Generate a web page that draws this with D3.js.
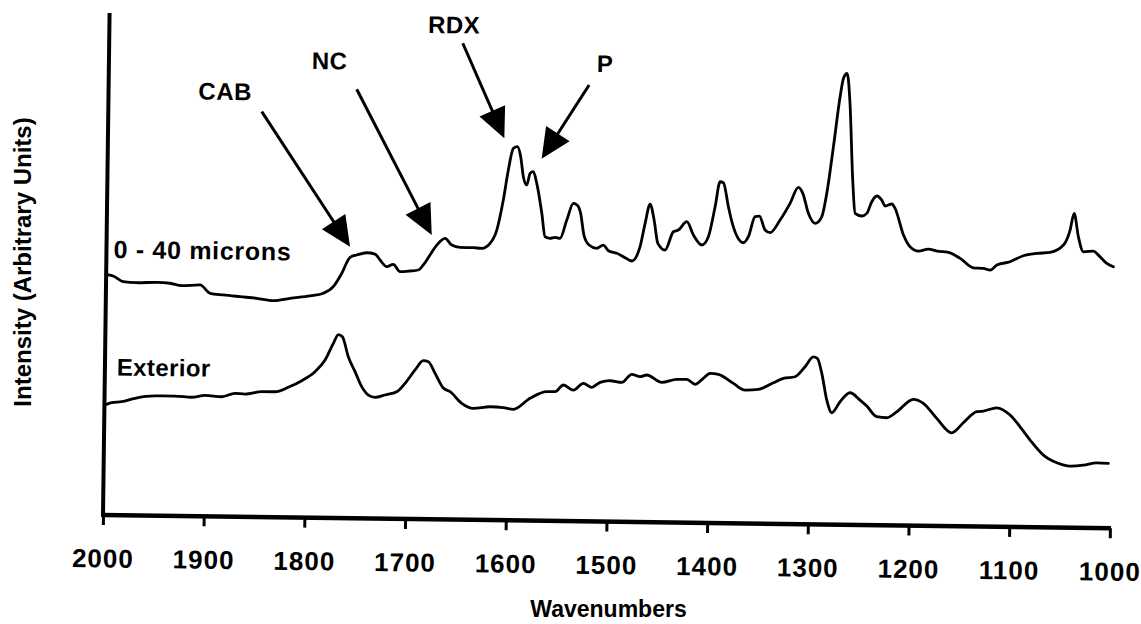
<!DOCTYPE html>
<html><head><meta charset="utf-8">
<script src="https://cdn.jsdelivr.net/npm/d3@7"></script>
<style>
body{margin:0;background:#fff}
svg{display:block}
text{font-family:"Liberation Sans",Arial,Helvetica,sans-serif;font-weight:bold;fill:#000}
</style>
</head><body>
<svg id="c" width="1141" height="624"></svg>
<script>
// ---- data (wavenumber, intensity in arbitrary units) ----
const topWn=[1997.8,1993.1,1983.1,1969.5,1949.7,1936.5,1924.8,1906.6,1896.6,1883.4,1866.7,1850.1,1833.6,1817.1,1797.2,1784.1,1774.3,1766.0,1758.1,1751.4,1741.5,1733.3,1728.2,1721.5,1715.0,1708.2,1698.3,1690.1,1685.2,1678.7,1672.1,1663.9,1657.2,1649.0,1635.7,1627.4,1619.2,1612.7,1606.6,1602.0,1597.3,1593.3,1589.9,1587.0,1583.5,1580.3,1577.2,1573.6,1568.2,1564.7,1559.7,1554.7,1549.8,1543.3,1537.0,1533.0,1529.7,1525.9,1520.9,1513.2,1506.7,1501.6,1493.2,1486.6,1478.2,1470.2,1465.5,1460.8,1456.6,1452.6,1445.3,1437.3,1432.4,1424.1,1417.4,1408.9,1402.5,1396.2,1391.6,1388.3,1383.0,1379.4,1367.6,1362.8,1356.4,1352.1,1346.3,1341.3,1331.5,1321.8,1313.8,1309.3,1303.5,1296.7,1290.2,1285.5,1279.5,1273.5,1270.3,1266.8,1263.6,1259.9,1257.1,1250.5,1245.5,1240.7,1235.7,1230.8,1227.4,1220.8,1217.5,1208.8,1202.1,1193.7,1183.9,1175.5,1164.0,1152.2,1138.9,1129.0,1122.3,1115.7,1102.6,1089.5,1076.2,1063.0,1049.8,1043.4,1039.6,1035.1,1029.9,1020.0,1015.0,1006.6,999.9];
const topI=[240.1,239.1,233.6,232.7,233.4,232.6,230.3,231.3,223.1,221.6,220.1,218.7,216.5,219.1,221.7,224.6,231.3,244.8,260.9,263.3,265.7,264.5,258.6,252.0,254.5,247.2,248.0,249.1,254.2,264.3,274.3,281.1,274.5,272.3,272.1,271.6,276.7,290.1,320.2,350.3,372.0,373.7,363.7,343.8,335.5,347.3,348.9,337.3,307.4,284.0,282.5,283.6,282.6,301.0,317.8,316.0,308.2,285.3,276.3,273.1,276.5,270.9,268.4,265.1,260.9,275.3,298.7,318.1,302.2,278.9,272.3,290.7,292.5,300.9,287.7,277.8,286.2,316.3,341.3,340.4,316.4,301.5,280.6,286.7,306.8,307.5,293.6,291.0,303.8,320.6,336.7,330.8,310.9,301.0,307.6,331.1,377.8,427.9,446.6,451.2,421.4,344.7,311.5,308.9,311.6,323.3,329.1,325.1,319.2,321.3,317.0,290.4,278.8,274.6,276.7,274.8,273.7,267.8,258.6,258.1,256.5,261.6,265.1,271.3,273.8,275.0,282.5,297.6,314.3,291.0,276.0,276.9,272.9,264.8,261.4];

const extWn=[1997.8,1992.8,1982.9,1969.7,1949.9,1930.0,1913.4,1900.3,1883.6,1870.5,1860.6,1844.0,1830.8,1817.7,1804.4,1791.4,1781.5,1773.5,1768.6,1764.6,1758.5,1751.6,1744.8,1738.1,1731.4,1721.5,1709.9,1701.8,1692.0,1683.9,1678.9,1672.1,1663.7,1657.0,1645.3,1633.7,1617.1,1603.9,1593.9,1577.5,1561.0,1552.7,1544.6,1534.6,1524.7,1516.4,1508.1,1498.2,1486.6,1476.8,1468.5,1461.9,1446.9,1432.1,1422.1,1413.8,1405.7,1399.0,1390.8,1375.8,1364.1,1350.8,1336.0,1326.2,1314.6,1304.8,1296.7,1292.7,1288.1,1282.8,1277.7,1269.6,1259.8,1249.8,1243.0,1233.0,1223.0,1213.1,1196.8,1186.9,1173.4,1158.3,1146.9,1133.7,1127.2,1113.9,1100.6,1090.5,1080.4,1067.0,1053.6,1040.3,1027.1,1013.9,1002.4];
const extI=[110.7,112.4,113.5,117.1,119.7,119.9,118.9,121.0,119.8,123.4,122.8,125.4,125.5,130.1,136.9,146.1,157.9,174.7,183.4,181.4,161.5,146.6,131.7,123.4,121.2,123.7,127.1,135.6,149.1,158.5,157.5,146.0,131.4,127.8,116.4,111.5,113.3,112.5,111.0,122.3,129.1,129.2,136.0,131.1,137.9,134.1,139.2,140.9,139.4,147.6,145.3,147.1,140.0,143.2,143.3,138.4,144.5,149.6,148.7,139.9,133.3,134.2,141.0,145.5,147.3,157.4,167.5,166.0,151.0,124.4,111.8,122.9,132.0,124.8,118.9,108.4,107.5,113.6,126.2,122.4,107.5,93.3,103.5,114.7,115.4,118.9,111.8,100.2,87.1,72.2,64.7,61.6,62.7,65.2,64.8];

const xTicks=[2000,1900,1800,1700,1600,1500,1400,1300,1200,1100,1000];
const seriesLabels=["0 - 40 microns","Exterior"];
const seriesLabelWn=[1993.0,1988.2];
const seriesLabelI=[257.1,139.7];

const annLabels=["CAB","NC","RDX","P"];
const annTipWn=[1758.2,1677.2,1606.4,1569.1];
const annTipI=[271.5,284.3,381.9,361.9];
const annTailWn=[1847.6,1753.6,1648.9,1522.9];
const annTailI=[405.4,429.0,476.4,436.3];
const annTextWn=[1884.2,1780.8,1657.7,1507.2];
const annTextI=[416.6,448.6,486.3,449.5];

const xTitle="Wavenumbers";
const yTitle="Intensity (Arbitrary Units)";
const yAxisTop=502;

// ---- drawing ----
const svg=d3.select("#c");
const x=d3.scaleLinear().domain([2000,1000]).range([103,1110]);
const y=d3.scaleLinear().domain([0,480]).range([515,35]);
const g=svg.append("g").attr("transform","rotate(0.75,103,515)");

// axes lines
g.append("line").attr("x1",x(2000)).attr("x2",x(2000)).attr("y1",y(0)+2).attr("y2",y(yAxisTop))
  .attr("stroke","#000").attr("stroke-width",4);
g.append("line").attr("x1",x(2000)-1).attr("x2",x(1000)+1).attr("y1",y(0)).attr("y2",y(0))
  .attr("stroke","#000").attr("stroke-width",4.5);

const xAxis=d3.axisBottom(x).tickValues(xTicks).tickSize(10).tickPadding(24).tickFormat(d3.format("d"));
const ax=g.append("g").attr("transform",`translate(0,${y(0)})`).call(xAxis);
ax.select(".domain").remove();
ax.selectAll(".tick line").attr("stroke","#000").attr("stroke-width",3);
ax.selectAll(".tick text").attr("fill","#000")
  .style("font-family",'"Liberation Sans",Arial,sans-serif').style("font-weight","bold")
  .style("font-size","26px").style("letter-spacing","1px");

// series
const line=d3.line().x(d=>x(d[0])).y(d=>y(d[1])).curve(d3.curveMonotoneX);
[[topWn,topI],[extWn,extI]].forEach(([w,v])=>{
  g.append("path").datum(w.map((d,i)=>[d,v[i]]))
   .attr("d",line).attr("fill","none").attr("stroke","#000")
   .attr("stroke-width",2.8).attr("stroke-linejoin","round").attr("stroke-linecap","round");
});

// series labels
seriesLabels.forEach((t,i)=>{
  g.append("text").attr("x",x(seriesLabelWn[i])).attr("y",y(seriesLabelI[i]))
   .attr("font-size",i===0?25:24).attr("letter-spacing",i===0?0.7:0.4).text(t);
});

// annotations
annLabels.forEach((t,i)=>{
  const tx=x(annTipWn[i]), ty=y(annTipI[i]);
  const sx=x(annTailWn[i]), sy=y(annTailI[i]);
  const dx=tx-sx, dy=ty-sy, len=Math.hypot(dx,dy), ux=dx/len, uy=dy/len;
  const L=30, W=14;
  const bx=tx-L*ux, by=ty-L*uy;
  g.append("line").attr("x1",sx).attr("y1",sy).attr("x2",bx+ux*2).attr("y2",by+uy*2)
   .attr("stroke","#000").attr("stroke-width",3);
  g.append("polygon").attr("points",[[tx,ty],[bx-W*uy,by+W*ux],[bx+W*uy,by-W*ux]].map(p=>p.join(",")).join(" "))
   .attr("fill","#000");
  g.append("text").attr("x",x(annTextWn[i])).attr("y",y(annTextI[i]))
   .attr("text-anchor","middle").attr("font-size",24).attr("letter-spacing",0.5).text(t);
});

// titles (kept level so nothing is clipped at the page edge)
svg.append("text").attr("x",(x(2000)+x(1000))/2+2).attr("y",617).attr("text-anchor","middle")
 .attr("font-size",23).text(xTitle);
svg.append("text").attr("transform","translate(31,262) rotate(-90)").attr("text-anchor","middle")
 .attr("font-size",24).text(yTitle);
</script>
</body></html>
